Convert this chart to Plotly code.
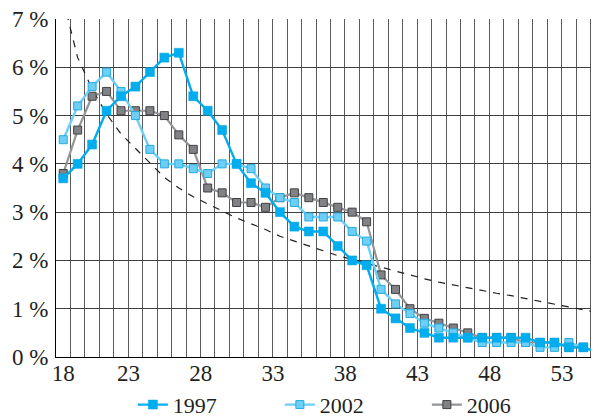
import plotly.graph_objects as go

ages = list(range(18, 56))

s1997 = [3.7, 4.0, 4.4, 5.1, 5.4, 5.6, 5.9, 6.2, 6.3, 5.4,
         5.1, 4.7, 4.0, 3.6, 3.4, 3.0, 2.7, 2.6, 2.6, 2.3,
         2.0, 1.9, 1.0, 0.8, 0.6, 0.5, 0.4, 0.4, 0.4, 0.4,
         0.4, 0.4, 0.4, 0.3, 0.3, 0.2, 0.2, 0.1]

s2002 = [4.5, 5.2, 5.6, 5.9, 5.5, 5.0, 4.3, 4.0, 4.0, 3.9,
         3.8, 4.0, 4.0, 3.9, 3.5, 3.3, 3.2, 2.9, 2.9, 2.9,
         2.6, 2.4, 1.4, 1.1, 0.9, 0.7, 0.6, 0.5, 0.4, 0.3,
         0.3, 0.3, 0.3, 0.2, 0.2, 0.3, 0.2, 0.1]

s2006 = [3.8, 4.7, 5.4, 5.5, 5.1, 5.1, 5.1, 5.0, 4.6, 4.3,
         3.5, 3.4, 3.2, 3.2, 3.1, 3.3, 3.4, 3.3, 3.2, 3.1,
         3.0, 2.8, 1.7, 1.4, 1.0, 0.8, 0.7, 0.6, 0.5, 0.4,
         0.4, 0.4, 0.3, 0.3, 0.3, 0.2, 0.2, 0.1]

ref_curve = [7.4, 6.2, 5.55, 5.03, 4.62, 4.32, 4.0, 3.72, 3.5, 3.32,
             3.17, 3.02, 2.88, 2.76, 2.64, 2.5, 2.4, 2.3, 2.2, 2.1,
             2.02, 1.94, 1.86, 1.77, 1.69, 1.62, 1.55, 1.49, 1.43, 1.37,
             1.32, 1.27, 1.21, 1.15, 1.09, 1.03, 0.97, 0.92]

y_ticks = [0, 1, 2, 3, 4, 5, 6, 7]
x_tick_ages = [18, 23, 28, 33, 38, 43, 48, 53]

TXT = '#231f20'
FONT = 'Liberation Serif, Times New Roman, serif'
XR = [17.5, 55.5]
LABEL_SHIFT = -0.48   # the source's age labels sit a little left of their category
label_pos = [x_tick_ages[0]] + [a + LABEL_SHIFT for a in x_tick_ages[1:]]

fig = go.Figure()

fig.add_trace(go.Scatter(
    x=ages, y=ref_curve, mode='lines', showlegend=False, hoverinfo='skip',
    line=dict(color=TXT, width=1.2, dash='7px,7px')))

fig.add_trace(go.Scatter(
    x=ages, y=s2006, name='2006', mode='lines+markers', legendrank=3,
    line=dict(color='#939598', width=2.2),
    marker=dict(symbol='square', size=8, color='#808285',
                line=dict(color='#414042', width=1))))

fig.add_trace(go.Scatter(
    x=ages, y=s2002, name='2002', mode='lines+markers', legendrank=2,
    line=dict(color='#6dcff6', width=2.4),
    marker=dict(symbol='square', size=8, color='#6dcff6',
                line=dict(color='#27aae1', width=1))))

fig.add_trace(go.Scatter(
    x=ages, y=s1997, name='1997', mode='lines+markers', legendrank=1,
    line=dict(color='#00aeef', width=2.4),
    marker=dict(symbol='square', size=9, color='#00aeef',
                line=dict(color='#00a3e0', width=0.5))))

# the page body adds an 8px offset, so margins are reduced by 8px on left/top
fig.update_layout(
    width=599, height=419,
    margin=dict(l=48, r=2, t=11, b=70),
    paper_bgcolor='white', plot_bgcolor='white',
    font=dict(family=FONT, size=23, color=TXT),
    xaxis=dict(range=XR, tickmode='array', tickvals=label_pos,
               ticktext=[str(a) for a in x_tick_ages],
               showgrid=False, showline=True, linecolor='black', linewidth=1,
               zeroline=False, ticks='', automargin=False,
               ticklabelstandoff=-5, ticklabeloverflow='allow',
               minor=dict(tickmode='linear', tick0=17.5, dtick=1,
                          showgrid=True, gridcolor='#5a5a5a', gridwidth=1,
                          ticks='')),
    yaxis=dict(range=[0, 7], tickmode='array', tickvals=y_ticks,
               ticktext=[f'{v} %' for v in y_ticks],
               showgrid=True, gridcolor='#404040', gridwidth=1,
               showline=True, linecolor='black', linewidth=1,
               zeroline=False, ticks='', ticklabelstandoff=2,
               ticklabeloverflow='allow', automargin=False),
    legend=dict(orientation='h', xref='paper', x=0.140, xanchor='left',
                yref='container', y=0.053, yanchor='middle',
                font=dict(size=22, family=FONT, color=TXT),
                entrywidth=102, bgcolor='rgba(0,0,0,0)'),
    showlegend=True,
)

fig.write_html('out.html')
